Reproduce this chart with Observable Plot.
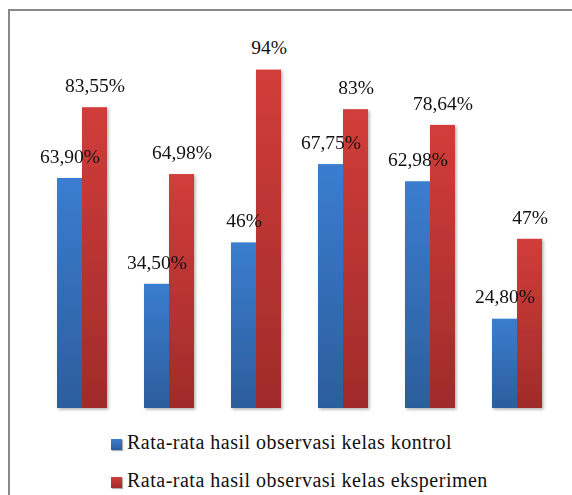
<!DOCTYPE html>
<html>
<head>
<meta charset="utf-8">
<script src="https://cdn.jsdelivr.net/npm/d3@7"></script>
<script src="https://cdn.jsdelivr.net/npm/@observablehq/plot@0.6"></script>
<style>
  html, body { margin: 0; padding: 0; background: #fff; overflow: hidden; width: 572px; height: 495px; }
  #frame { position: absolute; left: 8px; top: 9px; width: 620px; height: 540px; border: 2px solid #888; box-sizing: border-box; }
  #chart { position: absolute; left: 0; top: 0; }
  .leg { position: absolute; left: 111px; color: #111; white-space: nowrap; line-height: 1; font-family: "Liberation Serif", serif; font-size: 20px; letter-spacing: 0.5px; }
  .sw { display: inline-block; width: 11px; height: 11px; margin-right: 5px; vertical-align: -1px; box-shadow: 1px 1px 1px rgba(0,0,0,0.3); }
</style>
</head>
<body>
<div id="frame"></div>
<div id="chart"></div>
<div class="leg" style="top:432px"><span class="sw" style="background:linear-gradient(#3a7dcf,#2c5e9c)"></span><span id="t1"></span></div>
<div class="leg" style="top:470px"><span class="sw" style="background:linear-gradient(#d13d3a,#a02b2a)"></span><span id="t2"></span></div>
<script>
const groups = ["1", "2", "3", "4", "5", "6"];
const seriesNames = ["Rata-rata hasil observasi kelas kontrol", "Rata-rata hasil observasi kelas eksperimen"];
const kontrol = [63.90, 34.50, 46, 67.75, 62.98, 24.80];
const eksperimen = [83.55, 64.98, 94, 83, 78.64, 47];
const kontrolLabels = ["63,90%", "34,50%", "46%", "67,75%", "62,98%", "24,80%"];
const eksperimenLabels = ["83,55%", "64,98%", "94%", "83%", "78,64%", "47%"];

const data = [];
groups.forEach((g, i) => {
  data.push({group: g, series: seriesNames[0], value: kontrol[i], label: kontrolLabels[i]});
  data.push({group: g, series: seriesNames[1], value: eksperimen[i], label: eksperimenLabels[i]});
});

const chart = Plot.plot({
  width: 572,
  height: 420,
  marginTop: 48,
  marginBottom: 12,
  marginLeft: 54,
  marginRight: 28,
  style: {fontFamily: "Liberation Serif", fontSize: "19px"},
  fx: {domain: groups, paddingInner: 0.416, paddingOuter: 0, axis: null},
  x: {domain: seriesNames, padding: 0, axis: null},
  y: {domain: [0, 100], axis: null},
  marks: [
    Plot.barY(data, {
      fx: "group", x: "series", y: "value",
      fill: d => d.series === seriesNames[0] ? "url(#gBlue)" : "url(#gRed)"
    }),
    Plot.text(data, {
      fx: "group", x: "series", y: "value", text: "label",
      dy: -22, lineAnchor: "middle",
      fontFamily: "Liberation Serif",
      fontSize: 19.5, fill: "#111"
    })
  ]
});

const svg = d3.select(chart);
const defs = svg.insert("defs", ":first-child");
function grad(id, c1, c2) {
  const g = defs.append("linearGradient").attr("id", id).attr("x1", 0).attr("y1", 0).attr("x2", 0).attr("y2", 1);
  g.append("stop").attr("offset", "0%").attr("stop-color", c1);
  g.append("stop").attr("offset", "100%").attr("stop-color", c2);
}
grad("gBlue", "#3a7dcf", "#2c5e9c");
grad("gRed", "#d13d3a", "#a02b2a");
const f = defs.append("filter").attr("id", "shadow").attr("x", "-20%").attr("y", "-5%").attr("width", "150%").attr("height", "115%");
f.append("feDropShadow").attr("dx", 1.5).attr("dy", 1.5).attr("stdDeviation", 1.5).attr("flood-color", "#000").attr("flood-opacity", 0.3);
svg.selectAll("g[aria-label='bar']").attr("filter", "url(#shadow)");

document.getElementById("chart").appendChild(chart);
document.getElementById("t1").textContent = seriesNames[0];
document.getElementById("t2").textContent = seriesNames[1];
</script>
</body>
</html>
